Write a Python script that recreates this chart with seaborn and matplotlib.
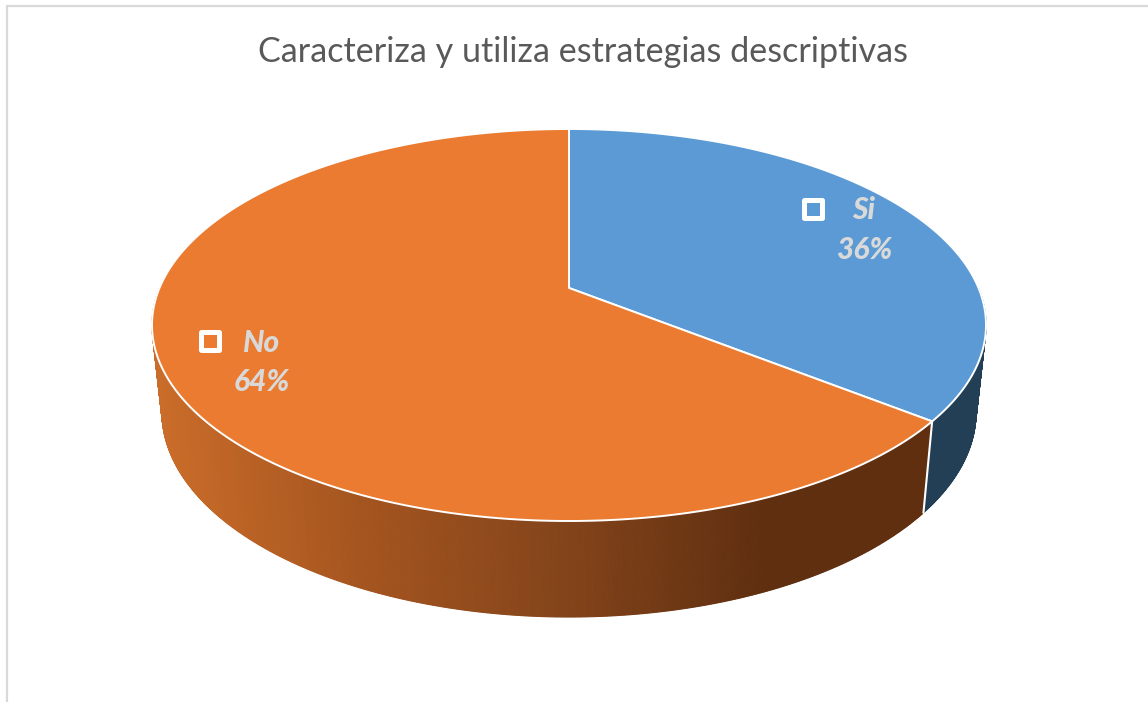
#!/usr/bin/env python3

import numpy as np
import matplotlib
matplotlib.use("Agg")
import matplotlib.pyplot as plt
import seaborn as sns

# chart values
categories = ["Si", "No"]
values = [35.7, 64.3]
percent_labels = ["36%", "64%"]
title = "Caracteriza y utiliza estrategias descriptivas"

top_colors = ["#5b9ad5", "#ea7b31"]
blue_side = "#233f56"
orange_side = ["#cb6d2a", "#a5551f", "#84441a", "#5f2f10", "#5f2f10"]

sns.set_theme(style="white")
plt.rcParams["font.family"] = ["Lato", "DejaVu Sans"]

# where the pie sits on the canvas, in pixels
CX = 569
PERSP = 0.189
TOP_RIM = (409.5, 196, 325)  # x radius, y radius, centre y
BOTTOM_RIM = (399.7, 205, 412)


def project(deg, rim=TOP_RIM):
    # circle -> perspective ellipse
    rx, ry, cy = rim
    t = np.radians(deg)
    d = 1 + PERSP * np.sin(t)
    return CX + rx * np.cos(t) / d, cy - ry * (np.sin(t) + PERSP) / d


fig = plt.figure(figsize=(11.48, 7.02), dpi=100)
ax = fig.add_axes([0, 0, 1, 1])
ax.set_xlim(0, 1148)
ax.set_ylim(702, 0)
ax.axis("off")

# chart frame, open on right and bottom
ax.plot([7, 7, 1148], [702, 6, 6], color="#d9d9d9", lw=1.6, solid_joinstyle="miter")

# slice angles, clockwise from twelve o'clock
shares = np.array(values) / sum(values) * 360
ends = 90 - np.cumsum(shares)
starts = np.r_[90, ends[:-1]]
split = ends[0]

# side wall, small quads so the orange can darken left to right
grad = sns.blend_palette(orange_side, n_colors=800)
edges = np.arange(-180.0, 0.25, 0.25)
for a, b in zip(edges[:-1], edges[1:]):
    xa, ya = project(a)
    xb, yb = project(b)
    xc, yc = project(b, BOTTOM_RIM)
    xd, yd = project(a, BOTTOM_RIM)
    if a >= split:
        col = blue_side
    else:
        pos = np.clip((xd - 160) / (760 - 160), 0, 1) * 0.75
        col = grad[int(pos * 799)]
    ax.fill([xa, xb, xc, xd], [ya, yb, yc, yd], color=col, lw=0.8, zorder=2)

# white seam between the two side colours
xs, ys = project(split)
xe, ye = project(split, BOTTOM_RIM)
ax.plot([xs, xe], [ys, ye], color="white", lw=1.5, zorder=3)

# top faces
centre_x, centre_y = CX, TOP_RIM[2] - TOP_RIM[1] * PERSP
for s, e, col in zip(starts, ends, top_colors):
    ang = np.linspace(s, e, 300)
    x, y = project(ang)
    ax.fill(np.r_[centre_x, x], np.r_[centre_y, y], facecolor=col, edgecolor="white",
            lw=1.4, joinstyle="round", zorder=4)

# data labels with their legend keys
key_x = [813, 210]
key_y = [209, 341]
text_x = [864, 262]
name_y = [210, 343]
pct_y = [250, 382]
for i, cat in enumerate(categories):
    ax.scatter(key_x[i], key_y[i], marker="s", s=150, facecolor="none",
               edgecolor="white", linewidth=3.6, zorder=5)
    ax.text(text_x[i], name_y[i], cat, color="#d9d9d9", fontsize=21.5, fontweight=900,
            fontstyle="italic", ha="center", va="center", zorder=5)
    ax.text(text_x[i], pct_y[i], percent_labels[i], color="#d9d9d9", fontsize=21.5,
            fontweight=900, fontstyle="italic", ha="center", va="center", zorder=5)

ax.text(583, 52, title, color="#595959", fontsize=24.6, ha="center", va="center")

fig.savefig("out.png", dpi=100)
plt.close(fig)
